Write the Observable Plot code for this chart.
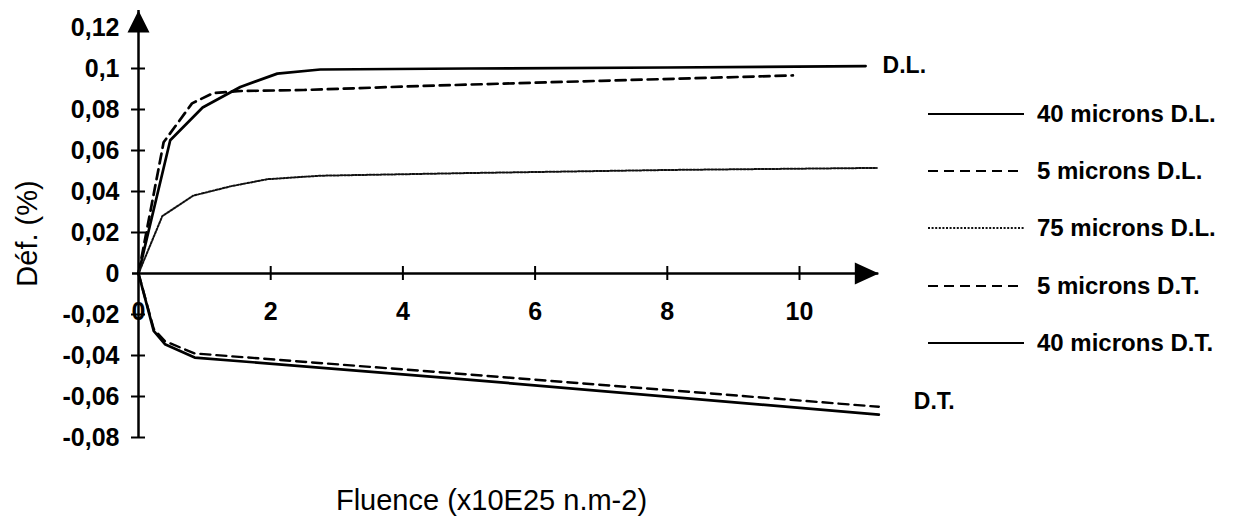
<!DOCTYPE html>
<html><head><meta charset="utf-8">
<script src="https://cdn.jsdelivr.net/npm/d3@7"></script>
<script src="https://cdn.jsdelivr.net/npm/@observablehq/plot@0.6"></script>
<style>
body{margin:0;background:#fff;}
#wrap{position:relative;width:1239px;height:523px;font-family:"Liberation Sans",Arial,sans-serif;}
#legend{position:absolute;left:0;top:0;pointer-events:none;}
</style></head><body><div id="wrap"></div>
<script>
// ---- data ----
const seriesNames = ["40 microns D.L.", "5 microns D.L.", "75 microns D.L.", "5 microns D.T.", "40 microns D.T."];
const fluence40DL = [0, 0.48, 0.97, 1.54, 2.1, 2.75, 5, 8, 11.0];
const def40DL     = [0, 0.065, 0.081, 0.091, 0.0975, 0.0995, 0.1, 0.1005, 0.1012];
const fluence5DL  = [0, 0.38, 0.81, 1.13, 1.5, 2.5, 4.3, 7, 9.9];
const def5DL      = [0, 0.064, 0.083, 0.088, 0.089, 0.0895, 0.0915, 0.094, 0.0966];
const fluence75DL = [0, 0.36, 0.83, 1.39, 1.95, 2.75, 5, 8, 11.17];
const def75DL     = [0, 0.028, 0.038, 0.0425, 0.046, 0.0477, 0.049, 0.0505, 0.0515];
const fluence5DT  = [0, 0.23, 0.4, 0.85, 4.7, 11.2];
const def5DT      = [0, -0.027, -0.033, -0.039, -0.0485, -0.065];
const fluence40DT = [0, 0.23, 0.4, 0.85, 4.7, 11.2];
const def40DT     = [0, -0.028, -0.0345, -0.041, -0.051, -0.0688];
const yTicks = [0.12, 0.1, 0.08, 0.06, 0.04, 0.02, 0, -0.02, -0.04, -0.06, -0.08];
const yTickLabels = ["0,12", "0,1", "0,08", "0,06", "0,04", "0,02", "0", "-0,02", "-0,04", "-0,06", "-0,08"];
const xTicks = [0, 2, 4, 6, 8, 10];
const xTickLabels = ["0", "2", "4", "6", "8", "10"];
const xTitle = "Fluence (x10E25 n.m-2)";
const yTitle = "Déf. (%)";
const curveLabels = ["D.L.", "D.T."];

// ---- build ----
const xs = [fluence40DL, fluence5DL, fluence75DL, fluence5DT, fluence40DT];
const ys = [def40DL, def5DL, def75DL, def5DT, def40DT];
const rows = seriesNames.map((name, k) => xs[k].map((x, i) => ({series: name, x, y: ys[k][i]})));
const styles = [
  {stroke: "#000", strokeWidth: 2.7, strokeDasharray: null},
  {stroke: "#000", strokeWidth: 2.7, strokeDasharray: "10,6"},
  {stroke: "#111", strokeWidth: 2, strokeDasharray: "2,1.6"},
  {stroke: "#000", strokeWidth: 2.4, strokeDasharray: "10,6"},
  {stroke: "#000", strokeWidth: 2.7, strokeDasharray: null}
];
const xMax = 11.2, yMin = -0.08, yMax = 0.12;
const font = "'Liberation Sans', Arial, sans-serif";
const upTri = {draw(ctx) { ctx.moveTo(0, 0); ctx.lineTo(-11, 22); ctx.lineTo(11, 22); ctx.closePath(); }};
const rightTri = {draw(ctx) { ctx.moveTo(0, 0); ctx.lineTo(-24, -11); ctx.lineTo(-24, 11); ctx.closePath(); }};

const marks = [
  Plot.ruleX([0], {y1: yMax, y2: yMin, insetTop: -17, stroke: "#000", strokeWidth: 2.5}),
  Plot.ruleY([0], {x1: 0, x2: xMax, insetLeft: -6, stroke: "#000", strokeWidth: 2.5}),
  Plot.ruleY(yTicks.filter(v => v !== 0 && v !== yMax), {y: d => d, x1: 0, x2: 0, insetLeft: -7, insetRight: -7, stroke: "#000", strokeWidth: 2}),
  Plot.ruleX(xTicks.filter(v => v !== 0), {x: d => d, y1: 0, y2: 0, insetTop: -7, insetBottom: -7, stroke: "#000", strokeWidth: 2}),
  Plot.dot([0], {x: 0, y: yMax, dy: -17, symbol: upTri, fill: "#000", stroke: "none"}),
  Plot.dot([0], {x: xMax, y: 0, symbol: rightTri, fill: "#000", stroke: "none"}),
  Plot.text(yTicks, {x: 0, y: d => d, text: (d, i) => yTickLabels[i], textAnchor: "end", dx: -19, fontSize: 25, fontWeight: "bold", fill: "#000"}),
  Plot.text(xTicks, {x: d => d, y: 0, text: (d, i) => xTickLabels[i], dy: 38, fontSize: 25, fontWeight: "bold", fill: "#000"}),
  ...rows.map((r, k) => Plot.line(r, {x: "x", y: "y", ...styles[k], strokeLinejoin: "round"})),
  Plot.text([rows[0][rows[0].length - 1]], {x: "x", y: "y", text: () => curveLabels[0], textAnchor: "start", dx: 17, fontSize: 23, fontWeight: "bold", fill: "#000"}),
  Plot.text([rows[4][rows[4].length - 1]], {x: "x", y: "y", text: () => curveLabels[1], textAnchor: "start", dx: 35, dy: -13, fontSize: 23, fontWeight: "bold", fill: "#000"}),
  Plot.text([xTitle], {frameAnchor: "top-left", dx: 491, dy: 500, textAnchor: "middle", lineAnchor: "middle", text: d => d, fontSize: 29, fill: "#000"}),
  Plot.text([yTitle], {frameAnchor: "top-left", dx: 27, dy: 233, textAnchor: "middle", lineAnchor: "middle", rotate: -90, text: d => d, fontSize: 29, fill: "#000"})
];

const chart = Plot.plot({
  width: 1239, height: 523,
  marginTop: 0, marginBottom: 0, marginLeft: 0, marginRight: 0,
  x: {domain: [0, xMax], range: [138, 138 + xMax * 66.1], axis: null},
  y: {domain: [yMin, yMax], range: [437, 27], axis: null},
  style: {fontFamily: font, background: "#fff", overflow: "visible"},
  marks
});
const wrap = document.getElementById("wrap");
wrap.appendChild(chart);

// ---- legend overlay ----
const leg = d3.select(wrap).append("svg").attr("id", "legend").attr("width", 1239).attr("height", 523);
const rowY = [114, 171, 228, 286, 343];
seriesNames.forEach((name, k) => {
  const s = styles[k];
  leg.append("line").attr("x1", 928).attr("x2", 1024).attr("y1", rowY[k]).attr("y2", rowY[k])
    .attr("stroke", s.stroke).attr("stroke-width", Math.min(s.strokeWidth, 2)).attr("stroke-dasharray", s.strokeDasharray);
  leg.append("text").attr("x", 1037).attr("y", rowY[k]).attr("dy", "0.35em")
    .attr("font-family", font).attr("font-size", 24).attr("font-weight", "bold").attr("fill", "#000").text(name);
});
</script></body></html>
